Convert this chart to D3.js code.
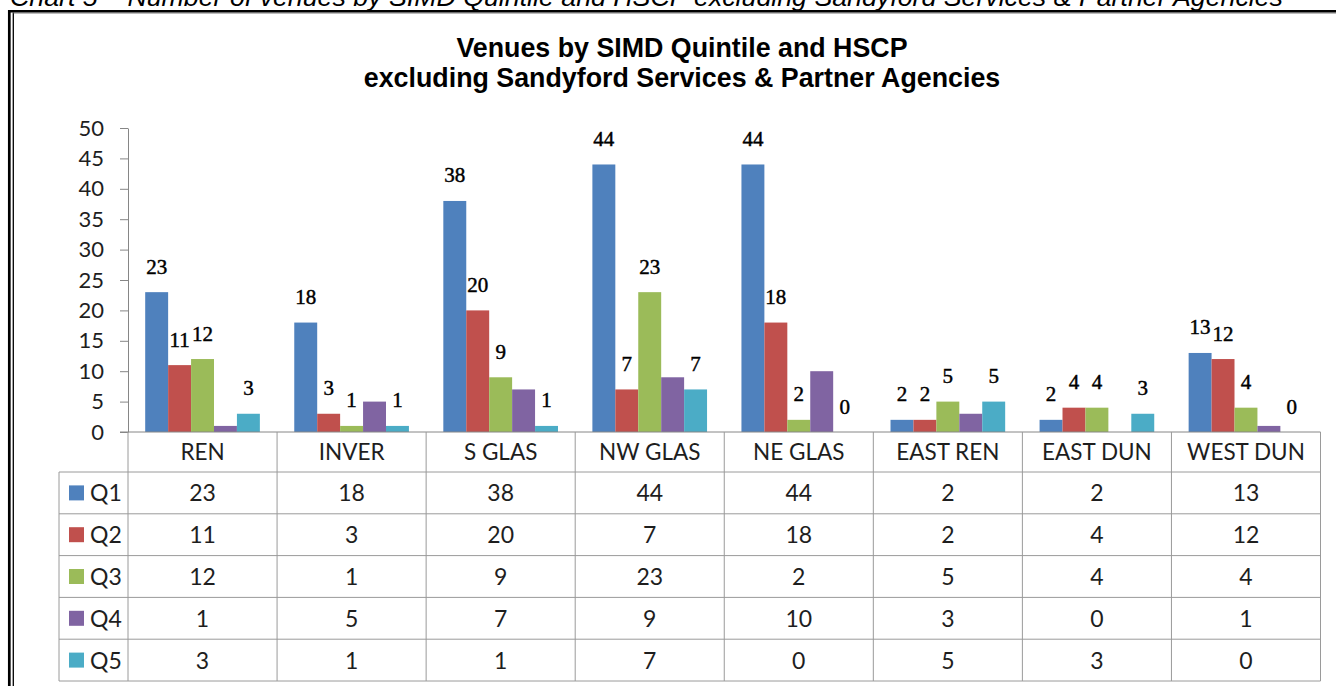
<!DOCTYPE html>
<html><head><meta charset="utf-8">
<script src="https://cdn.jsdelivr.net/npm/d3@7"></script>
<style>body{margin:0;background:#fff;overflow:hidden} svg{display:block}</style>
</head><body>
<svg id="c" width="1336" height="686"></svg>
<script>
// ---- data ----
const categories = ["REN","INVER","S GLAS","NW GLAS","NE GLAS","EAST REN","EAST DUN","WEST DUN"];
const seriesNames = ["Q1","Q2","Q3","Q4","Q5"];
const q1 = [23,18,38,44,44,2,2,13];
const q2 = [11,3,20,7,18,2,4,12];
const q3 = [12,1,9,23,2,5,4,4];
const q4 = [1,5,7,9,10,3,0,1];
const q5 = [3,1,1,7,0,5,3,0];
const yTicks = [0,5,10,15,20,25,30,35,40,45,50];
const labelledSeries = ["Q1","Q2","Q3","Q5"];
const seriesColors = ["#4F81BD","#C0504D","#9BBB59","#8064A2","#4BACC6"];
const captionText = "Chart 5 \u2013 Number of venues by SIMD Quintile and HSCP  excluding Sandyford Services & Partner Agencies";
const titleLines = ["Venues by SIMD Quintile and HSCP","excluding Sandyford Services & Partner Agencies"];

const seriesValues = [q1,q2,q3,q4,q5];

// ---- layout ----
const svg = d3.select("#c");
const plotLeft = 128, plotRight = 1320.5, plotTop = 128, plotBottom = 432;
const headerBottom = 472, rowH = 41.8, tableLeft = 59;
const lineCol = "#9a9a9a", axisCol = "#868686", textCol = "#1e1e1e";

const x = d3.scaleBand().domain(categories).range([plotLeft, plotRight]).padding(0);
const xs = d3.scaleBand().domain(seriesNames).range([0, x.bandwidth()]).paddingInner(0).paddingOuter(0.75);
const y = d3.scaleLinear().domain([0, 50]).range([plotBottom, plotTop]);

// caption (cropped at top, as in the reference)
svg.append("text").attr("x", 10).attr("y", 6)
  .attr("font-family", "'Liberation Sans', Arial, sans-serif").attr("font-style", "italic")
  .attr("font-size", 26.5).attr("fill", "#000")
  .attr("textLength", 1273).attr("lengthAdjust", "spacingAndGlyphs").text(captionText);

// border
svg.append("line").attr("x1", 8).attr("x2", 1336).attr("y1", 11.2).attr("y2", 11.2).attr("stroke", "#000").attr("stroke-width", 2.6);
svg.append("line").attr("x1", 9.3).attr("x2", 9.3).attr("y1", 10).attr("y2", 686).attr("stroke", "#000").attr("stroke-width", 2.7);
svg.append("line").attr("x1", 13.3).attr("x2", 13.3).attr("y1", 12.5).attr("y2", 686).attr("stroke", "#000").attr("stroke-width", 1.3);
svg.append("line").attr("x1", 13).attr("x2", 1336).attr("y1", 13).attr("y2", 13).attr("stroke", "#555").attr("stroke-width", 0.8);

// title
svg.append("g").selectAll("text").data(titleLines).join("text")
  .attr("x", 682).attr("y", (d, i) => 57.3 + i * 30).attr("text-anchor", "middle")
  .attr("font-family", "'Liberation Sans', Arial, sans-serif").attr("font-weight", "bold")
  .attr("font-size", 26.8).attr("fill", "#000").text(d => d);

// y axis
const yAxis = svg.append("g").attr("transform", `translate(${plotLeft},0)`)
  .call(d3.axisLeft(y).tickValues(yTicks).tickSizeInner(8).tickSizeOuter(0).tickPadding(16));
yAxis.selectAll("path,line").attr("stroke", axisCol);
yAxis.selectAll("text").attr("font-family", "Lato, 'Open Sans', sans-serif").attr("font-size", 22).attr("fill", textCol);

// bars
const groups = svg.append("g").selectAll("g").data(seriesNames).join("g")
  .attr("fill", (d, i) => seriesColors[i]);
groups.selectAll("rect").data((s, si) => categories.map((c, ci) => ({c, s, v: seriesValues[si][ci]})))
  .join("rect")
  .attr("x", d => x(d.c) + xs(d.s))
  .attr("width", xs.bandwidth())
  .attr("y", d => y(d.v))
  .attr("height", d => y(0) - y(d.v));

// data labels (Q4 not labelled in the reference)
const labData = [];
seriesNames.forEach((s, si) => {
  if (!labelledSeries.includes(s)) return;
  categories.forEach((c, ci) => labData.push({c, s, v: seriesValues[si][ci]}));
});
svg.append("g").selectAll("text").data(labData).join("text")
  .attr("x", d => x(d.c) + xs(d.s) + xs.bandwidth() / 2)
  .attr("y", d => y(d.v) - 18.5)
  .attr("text-anchor", "middle")
  .attr("font-family", "'Liberation Serif', 'Times New Roman', serif")
  .attr("font-size", 21).attr("fill", "#000")
  .attr("stroke", "#000").attr("stroke-width", 0.45).text(d => d.v);

// x axis line
svg.append("line").attr("x1", 120).attr("x2", plotRight).attr("y1", plotBottom).attr("y2", plotBottom)
  .attr("stroke", axisCol).attr("stroke-width", 1);

// data table
const rowTops = seriesNames.map((s, i) => headerBottom + i * rowH);
const tableBottom = headerBottom + seriesNames.length * rowH;
const tg = svg.append("g");
const edges = categories.map(c => x(c)).concat([x(categories[categories.length - 1]) + x.bandwidth()]);
tg.selectAll("line.v").data(edges).join("line").attr("class", "v")
  .attr("x1", d => d).attr("x2", d => d).attr("y1", plotBottom).attr("y2", tableBottom)
  .attr("stroke", lineCol);
tg.append("line").attr("x1", tableLeft).attr("x2", tableLeft).attr("y1", headerBottom).attr("y2", tableBottom).attr("stroke", lineCol);
tg.selectAll("line.h").data(rowTops.concat([tableBottom])).join("line").attr("class", "h")
  .attr("x1", tableLeft).attr("x2", plotRight).attr("y1", d => d).attr("y2", d => d)
  .attr("stroke", lineCol);

// header labels
tg.selectAll("text.cat").data(categories).join("text").attr("class", "cat")
  .attr("x", c => x(c) + x.bandwidth() / 2).attr("y", 460)
  .attr("text-anchor", "middle").attr("font-family", "Lato, 'Open Sans', sans-serif")
  .attr("font-size", 22.5).attr("fill", textCol).text(c => c);

// legend keys + row names + values
seriesNames.forEach((s, si) => {
  const cy = rowTops[si] + rowH / 2;
  tg.append("rect").attr("x", 69).attr("y", cy - 7.5).attr("width", 15).attr("height", 15).attr("fill", seriesColors[si]);
  tg.append("text").attr("x", 90).attr("y", cy + 8.5).attr("font-family", "Lato, 'Open Sans', sans-serif")
    .attr("font-size", 23).attr("fill", textCol).text(s);
  tg.append("g").selectAll("text").data(seriesValues[si]).join("text")
    .attr("x", (v, ci) => x(categories[ci]) + x.bandwidth() / 2).attr("y", cy + 8.5)
    .attr("text-anchor", "middle").attr("font-family", "Lato, 'Open Sans', sans-serif")
    .attr("font-size", 23).attr("fill", textCol).text(v => v);
});
</script>
</body></html>
